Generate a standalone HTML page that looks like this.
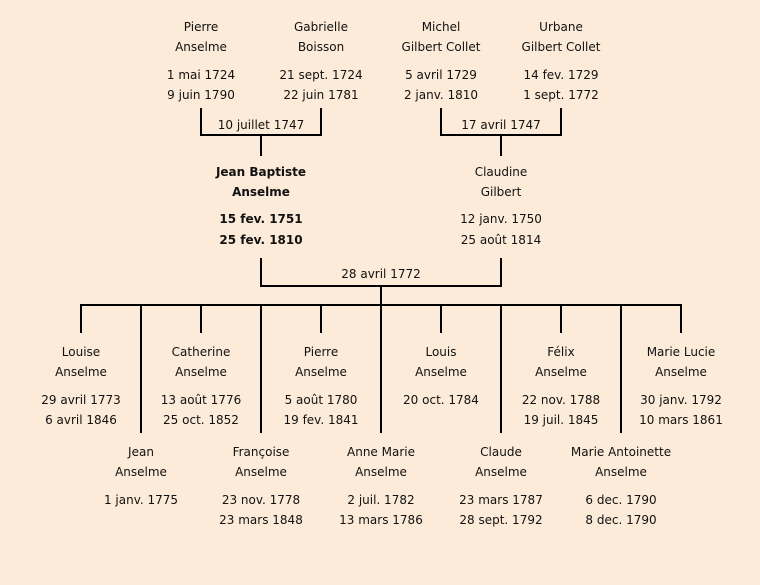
<!DOCTYPE html>
<html><head><meta charset="utf-8"><style>
html,body{margin:0;padding:0;background:#fcebd8;}
svg{display:block}
text{font-family:"Comic Sans MS","DejaVu Sans","Liberation Sans",sans-serif;font-size:12px;fill:#111;text-anchor:middle;dominant-baseline:central}
.b{font-weight:bold}
</style></head><body>
<svg width="760" height="585" xmlns="http://www.w3.org/2000/svg">
<rect width="760" height="585" fill="#fcebd8"/>
<g stroke="#000" stroke-width="2" fill="none">
<path d="M201 108V135H321V108M261 135V156"/>
<path d="M441 108V135H561V108M501 135V156"/>
<path d="M261 258V286H501V258M381 286V305"/>
<path d="M80 305H682"/>
<path d="M81 305V333M201 305V333M321 305V333M441 305V333M561 305V333M681 305V333"/>
<path d="M141 305V433M261 305V433M381 305V433M501 305V433M621 305V433"/>
</g>
<text x="261" y="125">10 juillet 1747</text>
<text x="501" y="125">17 avril 1747</text>
<text x="381" y="274">28 avril 1772</text>

<text x="201" y="27">Pierre</text><text x="201" y="47">Anselme</text><text x="201" y="75">1 mai 1724</text><text x="201" y="95">9 juin 1790</text>
<text x="321" y="27">Gabrielle</text><text x="321" y="47">Boisson</text><text x="321" y="75">21 sept. 1724</text><text x="321" y="95">22 juin 1781</text>
<text x="441" y="27">Michel</text><text x="441" y="47">Gilbert Collet</text><text x="441" y="75">5 avril 1729</text><text x="441" y="95">2 janv. 1810</text>
<text x="561" y="27">Urbane</text><text x="561" y="47">Gilbert Collet</text><text x="561" y="75">14 fev. 1729</text><text x="561" y="95">1 sept. 1772</text>

<g class="b"><text class="b" x="261" y="172">Jean Baptiste</text><text class="b" x="261" y="192">Anselme</text><text class="b" x="261" y="219">15 fev. 1751</text><text class="b" x="261" y="240">25 fev. 1810</text></g>
<text x="501" y="172">Claudine</text><text x="501" y="192">Gilbert</text><text x="501" y="219">12 janv. 1750</text><text x="501" y="240">25 août 1814</text>

<text x="81" y="352">Louise</text><text x="81" y="372">Anselme</text><text x="81" y="400">29 avril 1773</text><text x="81" y="420">6 avril 1846</text>
<text x="201" y="352">Catherine</text><text x="201" y="372">Anselme</text><text x="201" y="400">13 août 1776</text><text x="201" y="420">25 oct. 1852</text>
<text x="321" y="352">Pierre</text><text x="321" y="372">Anselme</text><text x="321" y="400">5 août 1780</text><text x="321" y="420">19 fev. 1841</text>
<text x="441" y="352">Louis</text><text x="441" y="372">Anselme</text><text x="441" y="400">20 oct. 1784</text>
<text x="561" y="352">Félix</text><text x="561" y="372">Anselme</text><text x="561" y="400">22 nov. 1788</text><text x="561" y="420">19 juil. 1845</text>
<text x="681" y="352">Marie Lucie</text><text x="681" y="372">Anselme</text><text x="681" y="400">30 janv. 1792</text><text x="681" y="420">10 mars 1861</text>

<text x="141" y="452">Jean</text><text x="141" y="472">Anselme</text><text x="141" y="500">1 janv. 1775</text>
<text x="261" y="452">Françoise</text><text x="261" y="472">Anselme</text><text x="261" y="500">23 nov. 1778</text><text x="261" y="520">23 mars 1848</text>
<text x="381" y="452">Anne Marie</text><text x="381" y="472">Anselme</text><text x="381" y="500">2 juil. 1782</text><text x="381" y="520">13 mars 1786</text>
<text x="501" y="452">Claude</text><text x="501" y="472">Anselme</text><text x="501" y="500">23 mars 1787</text><text x="501" y="520">28 sept. 1792</text>
<text x="621" y="452">Marie Antoinette</text><text x="621" y="472">Anselme</text><text x="621" y="500">6 dec. 1790</text><text x="621" y="520">8 dec. 1790</text>
</svg>
</body></html>
